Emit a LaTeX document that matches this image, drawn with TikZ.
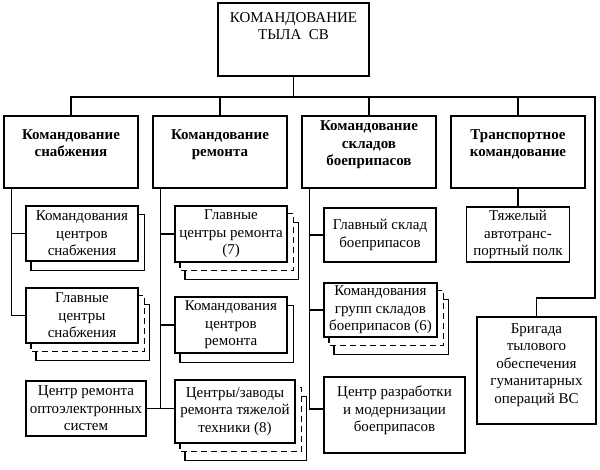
\documentclass[tikz,border=0pt]{standalone}
\usepackage{fontspec}
\setmainfont{Liberation Serif}
\usepackage{tikz}
\usetikzlibrary{calc}
\tikzset{
	topbox/.style={draw, line width=2.6pt, minimum width=151pt, minimum height=73pt, inner sep=0pt, align=center, font=\fontsize{15}{17}\selectfont},
	headbox/.style={draw, line width=1.7pt, minimum width=134pt, minimum height=72pt, inner sep=0pt, align=center, font=\fontsize{15}{17.5}\selectfont\bfseries},
	unitbox/.style={draw, line width=1.4pt, inner sep=0pt, align=center, font=\fontsize{15}{17.5}\selectfont},
	link/.style={line width=1.2pt},
	sheetline/.style={line width=1.4pt},
	dashsheet/.style={dash pattern=on 6pt off 4pt}
}
% sheet behind a box: node, dx, dy, options
\newcommand{\sheet}[4]{%
	\draw[sheetline,#4] ($(#1.south west)+(#2,#3-8.5)$) -- ++(0,8.5) -- ($(#1.south east)+(#2,#3)$) -- ($(#1.north east)+(#2,#3)$) -- ++(-5,0);}

\begin{document}
\begin{tikzpicture}[x=1pt,y=-1pt]
		\useasboundingbox (0,0) rectangle (600,469);
		
		\node(top) at (293.5,39.5) [topbox] {КОМАНДОВАНИЕ\\ТЫЛА~ СВ\\[10pt]~};
		
		\node(h1) at (71,152) [headbox] {Командование\\снабжения\\~};
		\node(h2) at (220,152) [headbox] {Командование\\ремонта\\~};
		\node(h3) at (369,152) [headbox] {Командование\\складов\\боеприпасов\\~};
		\node(h4) at (518,152) [headbox] {Транспортное\\командование\\~};
		
		\node(a1) at (82,233.5) [unitbox, minimum width=112pt, minimum height=55pt] {Командования\\центров\\снабжения};
		\node(a2) at (82,315.5) [unitbox, minimum width=112pt, minimum height=55pt] {Главные\\центры\\снабжения};
		\node(a3) at (86,408.5) [unitbox, minimum width=120pt, minimum height=55pt] {Центр ремонта\\оптоэлектронных\\систем};
		
		\node(b1) at (231,234) [unitbox, minimum width=112pt, minimum height=56pt] {Главные\\центры ремонта\\(7)};
		\node(b2) at (231,325) [unitbox, minimum width=112pt, minimum height=56pt] {Командования\\центров\\ремонта};
		\node(b3) at (235,411.5) [unitbox, minimum width=120pt, minimum height=63pt] {Центры/заводы\\ремонта тяжелой\\техники (8)};
		
		\node(c1) at (380,235) [unitbox, minimum width=112pt, minimum height=54pt] {Главный склад\\боеприпасов};
		\node(c2) at (380.5,310) [unitbox, minimum width=113pt, minimum height=54pt] {Командования\\групп складов\\боеприпасов (6)};
		\node(c3) at (394.5,415) [unitbox, minimum width=141pt, minimum height=76pt] {Центр разработки\\и модернизации\\боеприпасов\\[-5.5pt]~};
		
		\node(d1) at (518,234.5) [unitbox, minimum width=103pt, minimum height=55pt] {Тяжелый\\автотранс-\\портный полк};
		\node(d2) at (536.5,370.5) [unitbox, minimum width=119pt, minimum height=107pt] {Бригада\\тылового\\обеспечения\\гуманитарных\\операций ВС\\[-3.5pt]~};
		
		% sheets behind
		\sheet{a1}{5.5}{9}{}
		\sheet{b2}{5.5}{9}{}
		\foreach \n in {a2,b1,b3,c2} {
			\sheet{\n}{5.5}{8}{dashsheet}
			\sheet{\n}{10.5}{17}{}
		}
		
		\coordinate(bus) at (293.5,97);
		\coordinate(busR) at (595,97);
		\coordinate(turn) at (595,298);
		\draw[link] (top) -- (bus);
		\foreach \h in {h1,h2,h3,h4}
			\draw[link] (\h.north) |- (bus);
		\draw[link] (bus) -- (busR) -- (turn) -| (d2.north);
		\draw[link] (h4.south) -- (h4.south |- d1.north);
		
		\coordinate(s1) at ([xshift=8pt]h1.south west);
		\coordinate(s2) at ([xshift=8pt]h2.south west);
		\coordinate(s3) at ([xshift=8pt]h3.south west);
		
		\draw[link] (s1) |- (a2.west);
		\draw[link] (s1 |- a1.west) -- (a1.west);
		
		\draw[link] (s2) -- (s2 |- a3.east);
		\draw[link] (s2 |- b1.west) -- (b1.west);
		\draw[link] (s2 |- b2.west) -- (b2.west);
		\draw[link] (a3.east) -- (a3.east -| b3.west);
		
		\draw[link] (s3) |- ([yshift=6pt]c3.west);
		\draw[link] (s3 |- c1.west) -- (c1.west);
		\draw[link] (s3 |- c2.west) -- (c2.west);
	\end{tikzpicture}
\end{document}
